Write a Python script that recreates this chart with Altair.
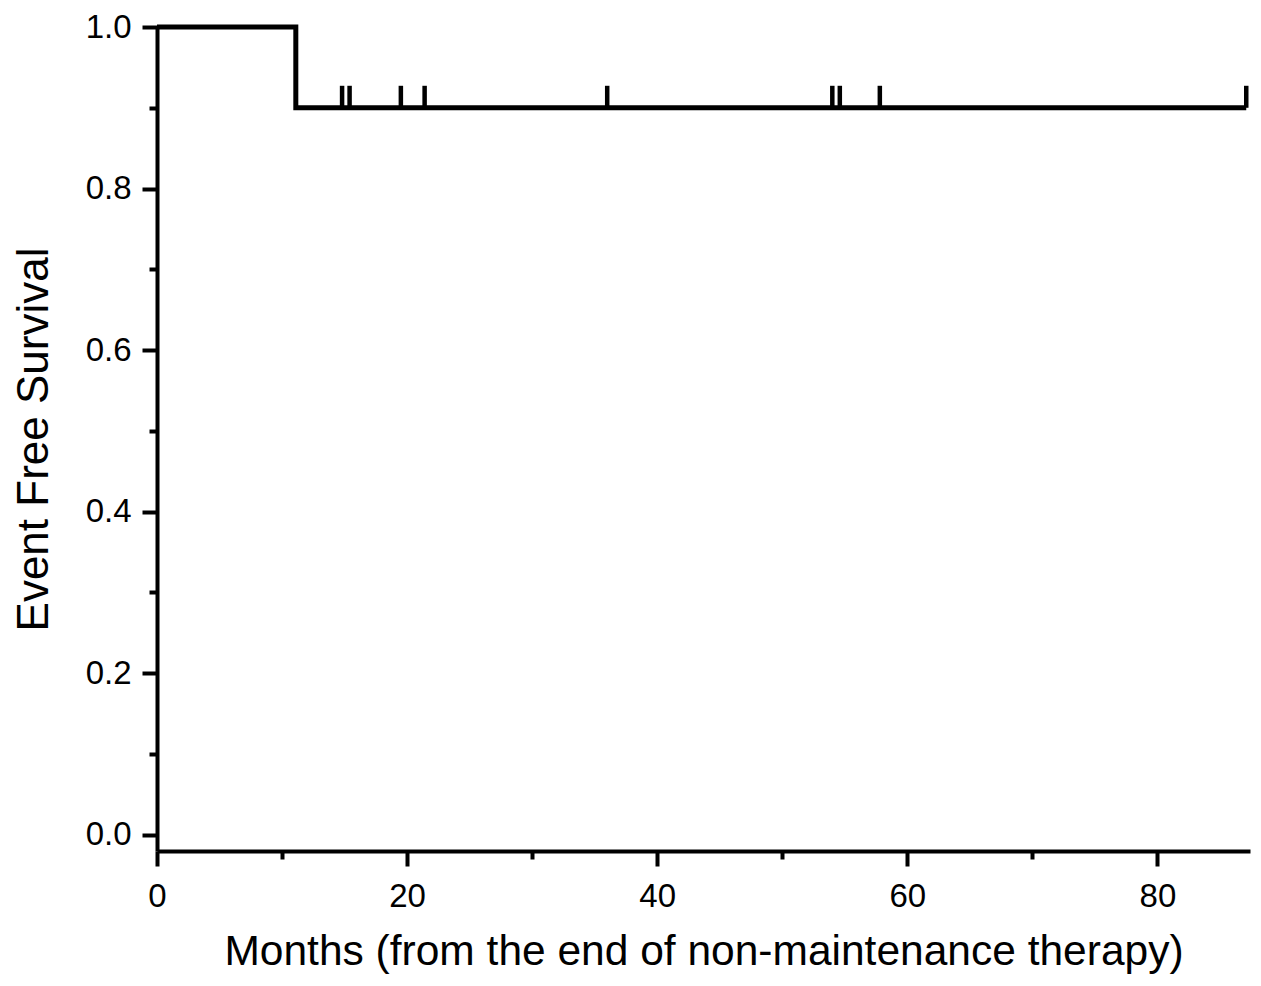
import altair as alt
import pandas as pd

# Kaplan-Meier step curve
months = [0, 11.1, 87.1]
survival = [1.0, 0.9, 0.9]

# censored observations
censor_months = [14.8, 15.4, 19.5, 21.4, 36.0, 54.0, 54.6, 57.8, 87.1]
censor_surv = [0.9] * len(censor_months)

x_major = [0, 20, 40, 60, 80]
x_minor = [10, 30, 50, 70]
y_major = [0.0, 0.2, 0.4, 0.6, 0.8, 1.0]
y_minor = [0.1, 0.3, 0.5, 0.7, 0.9]

curve = pd.DataFrame({"m": months, "s": survival})
cens = pd.DataFrame({"m": censor_months, "s": censor_surv})

FONT = "Liberation Sans"
xscale = alt.Scale(domain=[0, 87.4], nice=False, zero=False)
yscale = alt.Scale(domain=[-0.02, 1.0], nice=False, zero=False)

common = dict(grid=False, domainColor="black", tickColor="black", domainWidth=4,
              tickWidth=4, labelFont=FONT, titleFont=FONT, labelColor="black",
              titleColor="black", titleFontWeight="normal", labelFlush=False)

x_axis = alt.Axis(values=x_major, tickSize=15, labelFontSize=33, labelPadding=14,
                  title="Months (from the end of non-maintenance therapy)",
                  titleFontSize=42.5, titlePadding=17, format="d", orient="bottom",
                  **common)
y_axis = alt.Axis(values=y_major, tickSize=15, labelFontSize=33, labelPadding=11,
                  title="Event Free Survival", titleFontSize=44, titlePadding=29,
                  format=".1f", orient="left", **common)

line = alt.Chart(curve).mark_line(interpolate="step-after", color="black",
                                  strokeWidth=5, strokeCap="butt").encode(
    x=alt.X("m:Q", scale=xscale, axis=x_axis),
    y=alt.Y("s:Q", scale=yscale, axis=y_axis),
)

ticks = alt.Chart(cens).mark_tick(orient="vertical", color="black", thickness=4.5,
                                  size=22, yOffset=-11, opacity=1).encode(
    x=alt.X("m:Q", scale=xscale, axis=None),
    y=alt.Y("s:Q", scale=yscale, axis=None),
)

minor = alt.Chart(cens).mark_point(opacity=0).encode(
    x=alt.X("m:Q", scale=xscale,
            axis=alt.Axis(values=x_minor, tickSize=8, labels=False, domain=False,
                          title=None, grid=False, tickColor="black", tickWidth=4,
                          orient="bottom")),
    y=alt.Y("s:Q", scale=yscale,
            axis=alt.Axis(values=y_minor, tickSize=8, labels=False, domain=False,
                          title=None, grid=False, tickColor="black", tickWidth=4,
                          orient="left")),
)

chart = alt.layer(line, ticks, minor).resolve_axis(x="independent", y="independent").properties(
    width=1093, height=824,
    autosize=alt.AutoSizeParams(type="none"),
    padding={"left": 149, "top": 19, "right": 3, "bottom": 125},
).configure_view(stroke=None)

chart.save("out.html", embed_options={"renderer": "svg", "actions": False})
